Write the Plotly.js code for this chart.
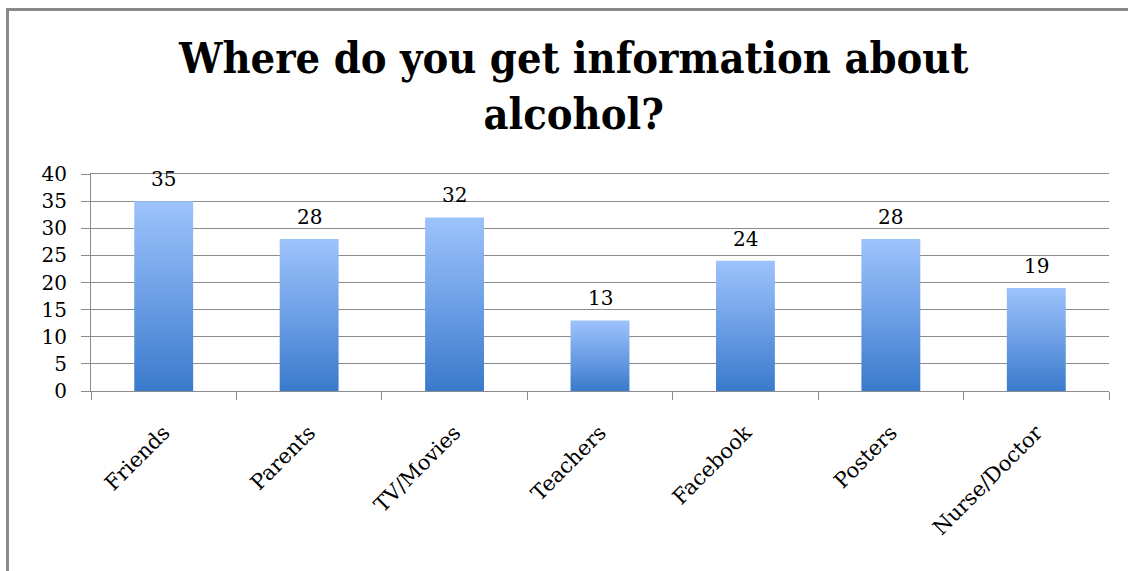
<!DOCTYPE html>
<html>
<head>
<meta charset="utf-8">
<script src="https://cdn.plot.ly/plotly-3.0.1.min.js"></script>
<style>
  html, body { margin: 0; padding: 0; background: #fff; overflow: hidden; }
  #wrap { position: relative; width: 1128px; height: 571px; }
  #chart { position: absolute; left: 0; top: 0; width: 1128px; height: 571px; }
  #frame { position: absolute; left: 6px; top: 8px; width: 1200px; height: 700px;
           border-left: 3px solid #8a8a8a; border-top: 3px solid #8a8a8a; pointer-events: none; }
</style>
</head>
<body>
<div id="wrap">
  <div id="chart"></div>
  <div id="frame"></div>
</div>
<script>
const categories = ["Friends", "Parents", "TV/Movies", "Teachers", "Facebook", "Posters", "Nurse/Doctor"];
const values = [35, 28, 32, 13, 24, 28, 19];
const yTicks = [0, 5, 10, 15, 20, 25, 30, 35, 40];
const titleText = "Where do you get information about<br>alcohol?";

const serif = "DejaVu Serif, Liberation Serif, serif";

const trace = {
  type: "bar",
  x: categories,
  y: values,
  marker: { color: "#6a9fe2", line: { width: 0 } },
  hoverinfo: "x+y"
};

const annotations = categories.map((c, i) => ({
  x: c, y: values[i], xref: "x", yref: "y",
  text: String(values[i]), showarrow: false,
  yanchor: "bottom", yshift: 8,
  font: { family: serif, size: 20, color: "#000" }
}));

annotations.push({
  text: titleText, showarrow: false,
  xref: "paper", yref: "paper", x: 0.4735, y: 1, xanchor: "center", yanchor: "bottom", yshift: 33,
  font: { family: "DejaVu Serif Condensed, DejaVu Serif, serif", size: 43, color: "#000", weight: "bold" }
});

const layout = {
  width: 1128, height: 571,
  margin: { l: 91, r: 19, t: 174, b: 180 },
  paper_bgcolor: "rgba(0,0,0,0)",
  plot_bgcolor: "rgba(0,0,0,0)",
  showlegend: false,
  bargap: 0.595,
  xaxis: {
    type: "category",
    showline: true, mirror: true, linecolor: "#8c8c8c", linewidth: 1,
    ticks: "outside", tickson: "boundaries", ticklen: 8, tickcolor: "#8c8c8c", tickwidth: 1,
    tickangle: -45, ticklabelstandoff: 20,
    tickfont: { family: serif, size: 21, color: "#000" },
    showgrid: false, zeroline: false
  },
  yaxis: {
    range: [0, 40],
    tickvals: yTicks,
    ticktext: yTicks.map(String),
    showline: true, linecolor: "#8c8c8c", linewidth: 1,
    ticks: "outside", ticklen: 9, tickcolor: "#8c8c8c", tickwidth: 1,
    ticklabelstandoff: 10,
    tickfont: { family: serif, size: 20, color: "#000" },
    showgrid: true, gridcolor: "#8c8c8c", gridwidth: 1,
    zeroline: false, fixedrange: true
  },
  annotations: annotations
};

function applyGradient() {
  const gd = document.getElementById("chart");
  const svg = gd.querySelector("svg.main-svg");
  if (!svg) return;
  let defs = svg.querySelector("defs");
  const ns = "http://www.w3.org/2000/svg";
  if (!defs) { defs = document.createElementNS(ns, "defs"); svg.insertBefore(defs, svg.firstChild); }
  if (!svg.querySelector("#barGrad")) {
    const g = document.createElementNS(ns, "linearGradient");
    g.setAttribute("id", "barGrad");
    g.setAttribute("x1", "0"); g.setAttribute("y1", "0");
    g.setAttribute("x2", "0"); g.setAttribute("y2", "1");
    [["0%", "#9dc3fb"], ["50%", "#6d9fe6"], ["100%", "#3a7acb"]].forEach(([o, c]) => {
      const s = document.createElementNS(ns, "stop");
      s.setAttribute("offset", o); s.setAttribute("stop-color", c);
      g.appendChild(s);
    });
    defs.appendChild(g);
  }
  gd.querySelectorAll(".bars .point path").forEach(p => {
    p.style.fill = "url(#barGrad)";
    p.style.fillOpacity = 1;
  });
}

Plotly.newPlot("chart", [trace], layout, { displayModeBar: false, staticPlot: true }).then(gd => {
  applyGradient();
  gd.on("plotly_afterplot", applyGradient);
});
</script>
</body>
</html>
